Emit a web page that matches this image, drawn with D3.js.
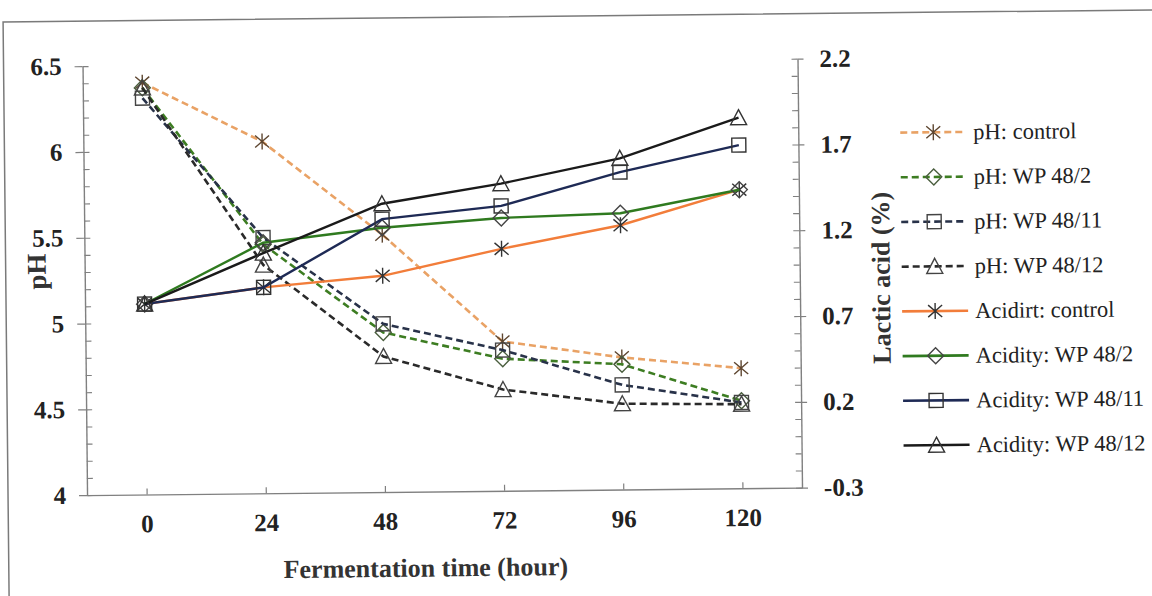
<!DOCTYPE html>
<html>
<head>
<meta charset="utf-8">
<script src="https://cdn.jsdelivr.net/npm/d3@7"></script>
<style>
  html, body { margin: 0; padding: 0; background: #fff; }
  svg { display: block; }
  text { font-family: "Liberation Serif", "Times New Roman", serif; }
</style>
</head>
<body>
<div id="chart"></div>
<script>
// PLOT DEFAULTS
const SVG_WIDTH = 1152;
const SVG_HEIGHT = 596;
const PLOT = { left: 85, right: 800, top: 61, bottom: 490 };
const TILT = -0.6; // the scanned figure is slightly rotated
const SERIF = '"Liberation Serif", "Times New Roman", serif';

// DATA
const hours = [0, 24, 48, 72, 96, 120];
const leftTicks = [4, 4.5, 5, 5.5, 6, 6.5];
const rightTicks = [-0.3, 0.2, 0.7, 1.2, 1.7, 2.2];

const phControl = [6.40, 6.05, 5.50, 4.87, 4.77, 4.70];
const phWP482 = [6.37, 5.45, 4.93, 4.77, 4.73, 4.51];
const phWP4811 = [6.31, 5.49, 4.98, 4.82, 4.61, 4.50];
const phWP4812 = [6.37, 5.33, 4.79, 4.59, 4.50, 4.49];

const acidControl = [0.81, 0.90, 0.96, 1.11, 1.24, 1.44];
const acidWP482 = [0.81, 1.16, 1.24, 1.29, 1.31, 1.44];
const acidWP4811 = [0.81, 0.90, 1.29, 1.36, 1.55, 1.70];
const acidWP4812 = [0.81, 1.10, 1.38, 1.49, 1.63, 1.86];

const seriesNames = [
  'pH: control', 'pH: WP 48/2', 'pH: WP 48/11', 'pH: WP 48/12',
  'Acidirt: control', 'Acidity: WP 48/2', 'Acidity: WP 48/11', 'Acidity: WP 48/12'
];

// series table built from the arrays above
const series = [
  { name: seriesNames[0], values: phControl, axis: 'left', color: '#e9a265', dash: '7,4', marker: 'star', mcolor: '#5e4630' },
  { name: seriesNames[1], values: phWP482, axis: 'left', color: '#3d7d22', dash: '7,4', marker: 'diamond', mcolor: '#4a5e3e' },
  { name: seriesNames[2], values: phWP4811, axis: 'left', color: '#283249', dash: '7,4', marker: 'square', mcolor: '#444' },
  { name: seriesNames[3], values: phWP4812, axis: 'left', color: '#2a2a2a', dash: '7,4', marker: 'triangle', mcolor: '#444' },
  { name: seriesNames[4], values: acidControl, axis: 'right', color: '#f27d3a', dash: null, marker: 'star', mcolor: '#333' },
  { name: seriesNames[5], values: acidWP482, axis: 'right', color: '#2f7a1f', dash: null, marker: 'diamond', mcolor: '#444' },
  { name: seriesNames[6], values: acidWP4811, axis: 'right', color: '#1e2a55', dash: null, marker: 'square', mcolor: '#333' },
  { name: seriesNames[7], values: acidWP4812, axis: 'right', color: '#1a1a1a', dash: null, marker: 'triangle', mcolor: '#333' }
];

// marker shapes
function markerPath (type) {
  if (type === 'star') return 'M0,-8V8M-7,-6L7,6M-7,6L7,-6';
  if (type === 'diamond') return 'M0,-8L8,0L0,8L-8,0Z';
  if (type === 'square') return 'M-7,-7H7V7H-7Z';
  return 'M0,-8L8,7H-8Z';
}

const svg = d3.select('#chart')
  .append('svg')
  .attr('width', SVG_WIDTH)
  .attr('height', SVG_HEIGHT);

const root = svg.append('g')
  .attr('transform', `rotate(${TILT}, ${SVG_WIDTH / 2}, ${SVG_HEIGHT / 2})`);

// outer frame of the figure
root.append('rect')
  .attr('x', 6).attr('y', 16)
  .attr('width', 1200).attr('height', 620)
  .attr('fill', 'none')
  .attr('stroke', '#7a7a7a')
  .attr('stroke-width', 1.5);

// scales
const xScale = d3.scalePoint()
  .domain(hours)
  .range([PLOT.left, PLOT.right])
  .padding(0.5);

const yLeft = d3.scaleLinear()
  .domain([leftTicks[0], leftTicks[leftTicks.length - 1]])
  .range([PLOT.bottom, PLOT.top]);

const yRight = d3.scaleLinear()
  .domain([rightTicks[0], rightTicks[rightTicks.length - 1]])
  .range([PLOT.bottom, PLOT.top]);

const minorLeft = d3.range(0, 26).map(i => 4 + i * 0.1);
const minorRight = d3.range(0, 26).map(i => -0.3 + i * 0.1);

const AXIS_COLOR = '#808080';
const tickFont = g => g.selectAll('text')
  .style('font-family', SERIF)
  .attr('font-weight', 'bold')
  .attr('font-size', 25)
  .attr('fill', '#222');

// x axis
const xAxis = root.append('g')
  .attr('transform', `translate(0, ${PLOT.bottom})`)
  .call(d3.axisBottom(xScale).tickSize(-6).tickSizeOuter(0).tickPadding(20));
xAxis.select('.domain').attr('stroke', AXIS_COLOR).attr('stroke-width', 1.4);
xAxis.selectAll('line').attr('stroke', AXIS_COLOR).attr('stroke-width', 1.2);
xAxis.call(tickFont);

// left axis (minor inside + major labels, outer tick)
const leftMinor = root.append('g')
  .attr('transform', `translate(${PLOT.left}, 0)`)
  .call(d3.axisRight(yLeft).tickValues(minorLeft).tickSize(6).tickSizeOuter(0).tickFormat(''));
leftMinor.select('.domain').attr('stroke', AXIS_COLOR).attr('stroke-width', 1.4);
leftMinor.selectAll('line').attr('stroke', AXIS_COLOR).attr('stroke-width', 1.1);

const leftMajor = root.append('g')
  .attr('transform', `translate(${PLOT.left}, 0)`)
  .call(d3.axisLeft(yLeft).tickValues(leftTicks).tickSize(8).tickSizeOuter(0).tickPadding(13)
    .tickFormat(d3.format('~g')));
leftMajor.select('.domain').remove();
leftMajor.selectAll('line').attr('stroke', AXIS_COLOR).attr('stroke-width', 1.2);
leftMajor.call(tickFont);

// right axis
const rightMinor = root.append('g')
  .attr('transform', `translate(${PLOT.right}, 0)`)
  .call(d3.axisLeft(yRight).tickValues(minorRight).tickSize(6).tickSizeOuter(0).tickFormat(''));
rightMinor.select('.domain').attr('stroke', AXIS_COLOR).attr('stroke-width', 1.4);
rightMinor.selectAll('line').attr('stroke', AXIS_COLOR).attr('stroke-width', 1.1);

const rightMajor = root.append('g')
  .attr('transform', `translate(${PLOT.right}, 0)`)
  .call(d3.axisRight(yRight).tickValues(rightTicks).tickSize(6).tickSizeOuter(0).tickPadding(16)
    .tickFormat((d, i) => String(rightTicks[i])));
rightMajor.select('.domain').remove();
rightMajor.selectAll('line').attr('stroke', AXIS_COLOR).attr('stroke-width', 1.2);
rightMajor.call(tickFont);

// axis titles
const titleStyle = sel => sel
  .style('font-family', SERIF)
  .attr('font-weight', 'bold')
  .attr('font-size', 26)
  .attr('fill', '#333')
  .attr('text-anchor', 'middle');

root.append('text')
  .attr('x', 423).attr('y', 575)
  .text('Fermentation time (hour)')
  .call(titleStyle);

root.append('text')
  .attr('transform', 'translate(46, 266) rotate(-90)')
  .text('pH')
  .call(titleStyle)
  .attr('font-size', 27);

root.append('text')
  .attr('transform', 'translate(890, 281) rotate(-90)')
  .text('Lactic acid (%)')
  .call(titleStyle);

// series lines + markers
const plot = root.append('g');

series.forEach(s => {
  const yS = s.axis === 'left' ? yLeft : yRight;
  const pts = hours.map((h, i) => [h, s.values[i]]);
  const line = d3.line()
    .x(d => xScale(d[0]))
    .y(d => yS(d[1]));

  plot.append('path')
    .datum(pts)
    .attr('d', line)
    .attr('fill', 'none')
    .attr('stroke', s.color)
    .attr('stroke-width', s.dash ? 2.6 : 2.4)
    .attr('stroke-dasharray', s.dash);

  plot.append('g').selectAll('path')
    .data(pts)
    .join('path')
    .attr('transform', d => `translate(${xScale(d[0])}, ${yS(d[1])})`)
    .attr('d', markerPath(s.marker))
    .attr('fill', 'none')
    .attr('stroke', s.mcolor)
    .attr('stroke-width', 1.4);
});

// legend
const legend = root.append('g').attr('transform', 'translate(902, 136)');
const ROW = 44.7;

const items = legend.selectAll('g')
  .data(series)
  .join('g')
  .attr('transform', (d, i) => `translate(0, ${i * ROW})`);

items.append('line')
  .attr('x1', 0).attr('x2', 66)
  .attr('stroke', d => d.color)
  .attr('stroke-width', 2.6)
  .attr('stroke-dasharray', d => d.dash);

items.append('path')
  .attr('transform', 'translate(33, 0)')
  .attr('d', d => markerPath(d.marker))
  .attr('fill', 'none')
  .attr('stroke', d => d.mcolor)
  .attr('stroke-width', 1.4);

items.append('text')
  .attr('x', 73)
  .attr('dy', '0.33em')
  .style('font-family', SERIF)
  .attr('font-size', 22.5)
  .attr('fill', '#222')
  .text(d => d.name);
</script>
</body>
</html>
